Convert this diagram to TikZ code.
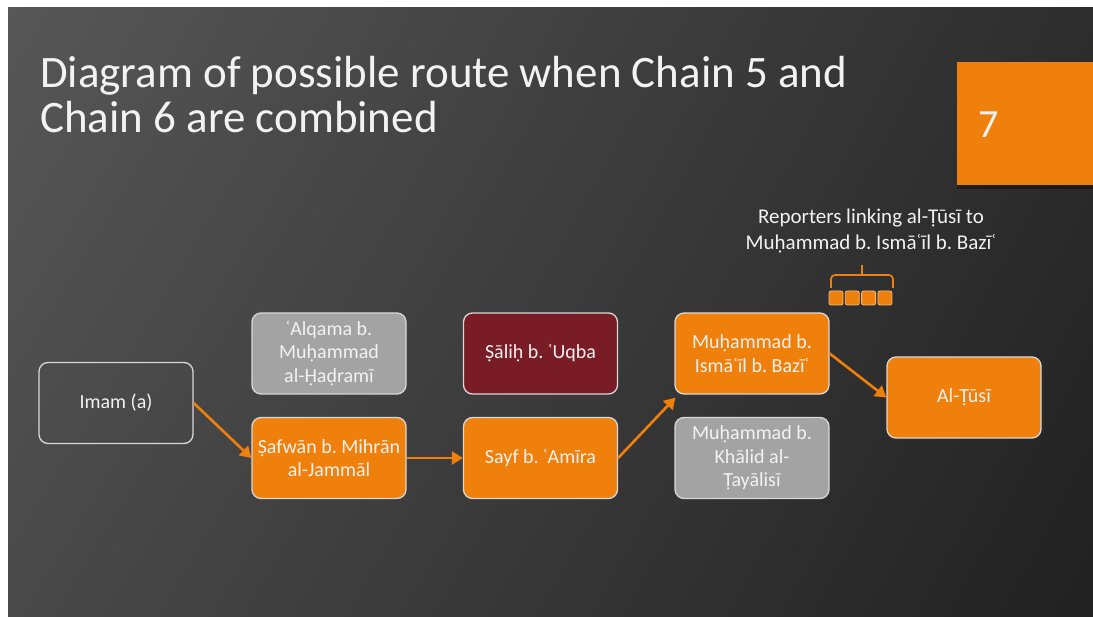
\documentclass[tikz,border=0pt]{standalone}
\usepackage{fontspec}
\setmainfont{Carlito}
\frenchspacing
\usetikzlibrary{arrows.meta,shadings}
\definecolor{orng}{HTML}{F0800C}
\definecolor{grbox}{HTML}{A3A3A3}
\definecolor{redbox}{HTML}{7A1C26}
\definecolor{edgec}{HTML}{D8D8D8}
\definecolor{txtc}{HTML}{F2F2F2}
\definecolor{bgUL}{HTML}{575757}
\definecolor{bgUR}{HTML}{2D2D2D}
\definecolor{bgLL}{HTML}{494949}
\definecolor{bgLR}{HTML}{212121}
\begin{document}
\begin{tikzpicture}[x=1pt,y=-1pt,
  card/.style={rounded corners=9pt, draw=edgec, line width=1.3pt,
    minimum width=154pt, minimum height=81pt, align=center,
    text=txtc, inner sep=0pt, font=\fontsize{20}{23.5}\selectfont},
  orangecard/.style={card, fill=orng},
  greycard/.style={card, fill=grbox},
  redcard/.style={card, fill=redbox},
  darkcard/.style={card, fill=none},
  flow/.style={draw=orng, line width=2.6pt, -{Triangle[length=11pt,width=13pt]}},
  titletext/.style={anchor=base west, inner sep=0pt, text=txtc, font=\fontsize{45}{45}\selectfont},
  bracket/.style={draw=orng, line width=1.7pt},
  sq/.style={fill=orng, draw=orng!55!white, line width=0.8pt, rounded corners=2pt}
]
\useasboundingbox (0,0) rectangle (1093,617);
\fill[white] (0,0) rectangle (1093,617);
\shade[upper left=bgUL, upper right=bgUR, lower left=bgLL, lower right=bgLR] (8,8) rectangle (1093,617);

% title
\node[titletext] (t1) at (40,88) {Diagram of possible route when Chain 5 and};
\node[titletext] (t2) at (40,133) {Chain 6 are combined};

% number box
\fill[black, opacity=0.35] (957,64) rectangle (1093,189);
\node[fill=orng, minimum width=136pt, minimum height=123pt, inner sep=0pt, anchor=north west] (num) at (957,62) {};
\node[text=txtc, font=\fontsize{40}{40}\selectfont, anchor=west] (seven) at (975,125) {7};

% boxes
\node[darkcard] (imam) at (116,403) {Imam (a)};
\node[greycard] (alq) at (329,353.5) {ʿAlqama b.\\Muḥammad\\al-Ḥaḍramī};
\node[orangecard] (saf) at (329,458) {Ṣafwān b. Mihrān\\al-Jammāl};
\node[redcard] (sal) at (540.5,353.5) {Ṣāliḥ b. ʿUqba};
\node[orangecard] (sayf) at (540.5,458) {Sayf b. ʿAmīra};
\node[orangecard] (mib) at (752,353.5) {Muḥammad b.\\Ismāʿīl b. Bazīʿ};
\node[greycard] (mkh) at (752,458) {Muḥammad b.\\Khālid al-\\Ṭayālisī};
\node[orangecard] (tusi) at (964,397.5) {Al-Ṭūsī};

% connectors
\draw[flow] (imam.east) -- (saf.west);
\draw[flow] (saf.east) -- (sayf.west);
\draw[flow] (sayf.east) -- ([xshift=1pt,yshift=-3pt]mib.south west);
\draw[flow] (mib.east) -- (tusi.west);

% reporters annotation
\node[text=txtc, align=center, inner sep=0pt, font=\fontsize{21}{25.5}\selectfont] (rep) at (871,231) {Reporters linking al-Ṭūsī to\\Muḥammad b. Ismāʿīl b. Bazīʿ};
\coordinate (bl) at (831,288);
\coordinate (br) at (893,288);
\coordinate (bm) at (862,275);
\coordinate (bt) at (862,265);
\draw[bracket, rounded corners=4pt] (bl) -- (bl |- bm) -- (br |- bm) -- (br);
\draw[bracket] (bm) -- (bt);
\foreach \i in {0,1,2,3} {
  \draw[sq] (829+\i*16.3,291) rectangle ++(14,14);
}
\end{tikzpicture}
\end{document}
